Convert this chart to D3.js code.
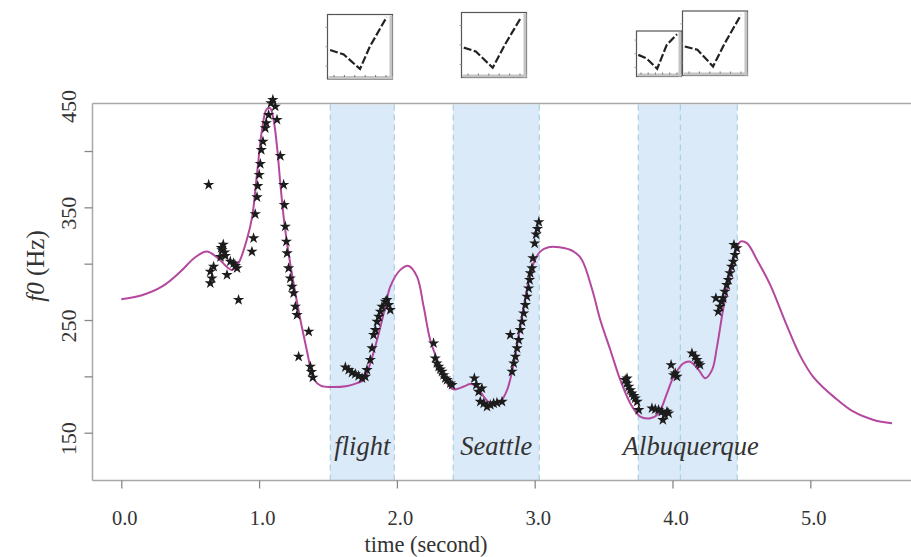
<!DOCTYPE html>
<html>
<head>
<meta charset="utf-8">
<script src="https://cdn.jsdelivr.net/npm/d3@7"></script>
<style>
  html, body { margin: 0; padding: 0; background: #fff; }
  svg { display: block; }
  text { font-family: "Liberation Serif", "Times New Roman", serif; fill: #333; }
</style>
</head>
<body>
<svg id="chart" width="911" height="557"></svg>
<script>
// ---- data ---------------------------------------------------------------
// fitted f0 contour (time in s, f0 in Hz)
const curveTime = [0.00, 0.15, 0.30, 0.43, 0.53, 0.62, 0.70, 0.80, 0.85, 0.91, 0.95, 0.985, 1.021, 1.054, 1.08, 1.105, 1.13, 1.154, 1.178, 1.203, 1.25, 1.30, 1.35, 1.372, 1.40, 1.45, 1.52, 1.64, 1.71, 1.76, 1.807, 1.856, 1.916, 1.952, 2.025, 2.085, 2.146, 2.194, 2.242, 2.303, 2.364, 2.412, 2.485, 2.533, 2.58, 2.63, 2.68, 2.75, 2.80, 2.848, 2.895, 2.944, 2.992, 3.04, 3.10, 3.18, 3.28, 3.34, 3.418, 3.476, 3.549, 3.621, 3.694, 3.766, 3.839, 3.899, 3.96, 4.008, 4.08, 4.129, 4.19, 4.238, 4.287, 4.323, 4.371, 4.432, 4.492, 4.54, 4.613, 4.71, 4.82, 4.93, 5.024, 5.10, 5.169, 5.314, 5.46, 5.593];
const curveF0   = [268.5, 272, 280, 293, 305, 310.7, 305, 294.5, 300.4, 321, 341.8, 380, 418.7, 437, 438, 427.7, 403.8, 371.3, 341.7, 318, 282.6, 250, 221, 208, 197, 191.5, 190.5, 191.5, 194, 197, 211.6, 232.3, 262, 279.7, 294.5, 298, 288.5, 262, 232.3, 211.6, 194, 188.5, 191, 193.2, 191, 182, 176, 177.5, 188, 211.6, 244, 276.7, 300.4, 310.7, 314.6, 314.5, 311, 304, 276.7, 250, 223.4, 196.8, 176, 164.2, 162.8, 167.2, 185, 199.7, 211.6, 213, 205.7, 198.3, 205.7, 226.4, 262, 297.4, 319.6, 318.2, 303.4, 281, 248, 217.5, 199, 189.5, 182, 168.6, 161.3, 158.3];

// measured f0 samples (time in s, f0 in Hz)
const sampleTime = [0.634, 0.72, 0.73, 0.74, 0.75, 0.755, 0.725, 0.67, 0.646, 0.658, 0.646, 0.767, 0.791, 0.815, 0.84, 0.828, 0.851,
  0.948, 0.96, 0.972, 0.985, 0.99, 1.001, 1.009, 1.016, 1.028, 1.045, 1.052, 1.069, 1.086, 1.1, 1.117, 1.13, 1.154, 1.178, 1.183, 1.19,
  1.198, 1.203, 1.214, 1.226, 1.239, 1.25, 1.263, 1.275, 1.287, 1.36, 1.372, 1.38, 1.39,
  1.626, 1.65, 1.674, 1.698, 1.722, 1.747, 1.771, 1.783, 1.807, 1.82, 1.831, 1.844, 1.856, 1.868, 1.88, 1.892, 1.916, 1.928, 1.94, 1.952,
  2.266, 2.278, 2.29, 2.303, 2.315, 2.327, 2.339, 2.351, 2.364, 2.388, 2.4,
  2.562, 2.576, 2.593, 2.617, 2.605, 2.63, 2.654, 2.678, 2.702, 2.726, 2.763, 2.823, 2.835, 2.848, 2.86, 2.872, 2.884, 2.895, 2.908, 2.92,
  2.932, 2.944, 2.956, 2.963, 2.968, 2.98, 2.987, 3.0, 3.01, 3.02, 3.03,
  3.657, 3.67, 3.682, 3.694, 3.706, 3.718, 3.73, 3.743, 3.755, 3.67,
  3.851, 3.875, 3.899, 3.923, 3.96, 3.93, 3.945, 3.972,
  3.99, 4.008, 4.032, 4.02, 4.141, 4.165, 4.177, 4.19, 4.2,
  4.315, 4.332, 4.344, 4.356, 4.368, 4.38, 4.393, 4.405, 4.417, 4.429, 4.441, 4.453, 4.446, 4.467];
const sampleF0 = [370, 306, 312, 317, 310, 307, 314, 297.4, 293, 287, 282.7, 290, 301.9, 300.4, 296, 298, 267.9,
  310.7, 322.6, 344, 359, 369, 378.9, 388.6, 401, 408.4, 420.3, 424.8, 432, 442.5, 445.5, 439.5, 427.7, 395.7, 370, 352.2, 333,
  319.6, 309.3, 296, 287, 279.7, 273.8, 261.9, 254.5, 217.5, 239.7, 208.6, 204, 199,
  208.1, 205.7, 203.3, 202.1, 200.4, 198.3, 199.7, 205.7, 214.6, 225, 236.8, 241.2, 248.6, 253, 257.5, 261.9, 266.3, 267.9, 263.4, 259,
  229.4, 216, 211.6, 208.6, 206.3, 204.2, 201.2, 198.3, 196.8, 193.9, 192.4,
  198.3, 192.4, 186.4, 189.4, 177.5, 176, 173.1, 174.6, 176, 176.6, 177.5, 236.8, 204.2, 211.6, 217.5, 225, 232.3, 241.2, 248.6, 256,
  263.4, 270.8, 278.2, 285.6, 291.6, 296, 304.9, 318, 326, 331, 337,
  196.8, 193.9, 190.9, 187.9, 185, 182.6, 180.5, 177.5, 170.2, 198.3,
  171.7, 170.8, 170.2, 168.7, 168.7, 161.3, 165.7, 167.2,
  210.1, 201.2, 199.7, 202.7, 220.5, 217.5, 214.6, 211.6, 210.1,
  269.4, 257.5, 261.9, 266.3, 269.4, 275.2, 281.2, 285.6, 291.6, 297.4, 301.9, 307.8, 316.7, 313.8];

// highlighted words: start / end time in s
const wordLabels = ["flight", "Seattle", "Albuquerque"];
const wordStart  = [1.517, 2.409, 3.752];
const wordEnd    = [1.981, 3.033, 4.470];
const extraBoundary = [4.057];   // syllable split inside "Albuquerque"

// axis ticks
const xTicks = [0, 1, 2, 3, 4, 5];
const yTicks = [150, 200, 250, 300, 350, 400];
const yLabelled = [150, 250, 350, 450];

// small contour thumbnails: normalized time / normalized f0 points
const thumbX = [
  [0.04, 0.25, 0.50, 0.65, 0.91],
  [0.035, 0.22, 0.48, 0.67, 0.92],
  [0.04, 0.22, 0.46, 0.67, 0.90],
  [0.035, 0.23, 0.47, 0.65, 0.90]
];
const thumbY = [
  [0.45, 0.38, 0.155, 0.50, 0.96],
  [0.46, 0.40, 0.15, 0.51, 0.93],
  [0.475, 0.40, 0.17, 0.69, 0.93],
  [0.45, 0.40, 0.14, 0.50, 0.94]
];

// ---- layout ---------------------------------------------------------------
const plot = { left: 92.5, right: 911, top: 103.5, bottom: 480.5 };
const svg = d3.select("#chart");

const x = d3.scaleLinear().domain([0, 5]).range([121.3, 810.3]);
const y = d3.scaleLinear().domain([150, 400]).range([432.7, 151]);

// shaded word regions
const regions = svg.append("g");
regions.selectAll("rect").data(wordLabels).join("rect")
  .attr("x", (d, i) => x(wordStart[i]))
  .attr("width", (d, i) => x(wordEnd[i]) - x(wordStart[i]))
  .attr("y", plot.top + 1)
  .attr("height", plot.bottom - plot.top - 1)
  .attr("fill", "#dbeaf8");

const boundaries = wordStart.concat(wordEnd, extraBoundary);
regions.selectAll("line").data(boundaries).join("line")
  .attr("x1", d => x(d)).attr("x2", d => x(d))
  .attr("y1", plot.top + 1).attr("y2", plot.bottom)
  .attr("stroke", "#a9cfe0").attr("stroke-width", 1.2)
  .attr("stroke-dasharray", "6,4");

// frame lines
const frame = svg.append("g").attr("stroke", "#a8a8a8").attr("stroke-width", 1.5).attr("fill", "none");
frame.append("line").attr("x1", plot.left).attr("x2", plot.right).attr("y1", plot.top).attr("y2", plot.top);
frame.append("line").attr("x1", plot.left).attr("x2", plot.right).attr("y1", plot.bottom).attr("y2", plot.bottom);
frame.append("line").attr("x1", plot.left).attr("x2", plot.left).attr("y1", plot.top).attr("y2", plot.bottom);

// x axis
const xAxis = d3.axisBottom(x).tickValues(xTicks).tickSize(8).tickPadding(22)
  .tickFormat(d3.format(".1f"));
const gx = svg.append("g").attr("transform", `translate(0,${plot.bottom})`).call(xAxis);
gx.select(".domain").remove();
gx.selectAll(".tick line").attr("stroke", "#888").attr("stroke-width", 1.3);
gx.selectAll(".tick text").attr("font-size", 20.5).attr("fill", "#333")
  .attr("font-family", "Liberation Serif, serif")
  .attr("dx", 3);

// y axis
const yAxis = d3.axisLeft(y).tickValues(yTicks).tickSize(8).tickFormat("");
const gy = svg.append("g").attr("transform", `translate(${plot.left},0)`).call(yAxis);
gy.select(".domain").remove();
gy.selectAll(".tick line").attr("stroke", "#888").attr("stroke-width", 1.3);
svg.append("g").selectAll("text").data(yLabelled).join("text")
  .attr("transform", d => `translate(76,${Math.max(y(d), plot.top - 3) + 6}) rotate(-90)`)
  .attr("text-anchor", "middle")
  .attr("font-size", 22)
  .text(d => d);

// axis titles
svg.append("text")
  .attr("x", 426).attr("y", 552)
  .attr("text-anchor", "middle").attr("font-size", 22.5)
  .text("time (second)");
const yt = svg.append("text")
  .attr("transform", "translate(44,266) rotate(-90)")
  .attr("text-anchor", "middle").attr("font-size", 25);
yt.append("tspan").attr("font-style", "italic").text("f0");
yt.append("tspan").text(" (Hz)");

// fitted contour
const curveData = curveTime.map((t, i) => [t, curveF0[i]]);
svg.append("path")
  .datum(curveData)
  .attr("fill", "none")
  .attr("stroke", "#b4489e")
  .attr("stroke-width", 2)
  .attr("d", d3.line().x(d => x(d[0])).y(d => y(d[1])).curve(d3.curveCatmullRom.alpha(0.5)));

// measured samples
const star = d3.symbol().type(d3.symbolStar).size(40);
svg.append("g").selectAll("path").data(sampleTime).join("path")
  .attr("transform", (t, i) => `translate(${x(t)},${y(sampleF0[i])})`)
  .attr("d", star)
  .attr("fill", "#1c1c1c");

// word labels
svg.append("g").selectAll("text").data(wordLabels).join("text")
  .attr("x", (d, i) => (x(wordStart[i]) + x(wordEnd[i])) / 2 + (i === 2 ? 3 : 0))
  .attr("y", 455)
  .attr("text-anchor", "middle")
  .attr("font-size", 26.5)
  .attr("font-style", "italic")
  .attr("fill", "#222")
  .text(d => d);

// contour thumbnails above the plot
const thumbBoxes = [
  { x: 327.5, y: 14.5, w: 65, h: 64.5 },
  { x: 461.5, y: 12.5, w: 65, h: 65 },
  { x: 636.5, y: 31, w: 45, h: 45.5 },
  { x: 682.5, y: 11, w: 65, h: 64.5 }
];
thumbBoxes.forEach((b, k) => {
  const g = svg.append("g");
  const tx = d3.scaleLinear().domain([0, 1]).range([b.x, b.x + b.w]);
  const ty = d3.scaleLinear().domain([0, 1]).range([b.y + b.h, b.y]);
  g.append("rect").attr("x", b.x).attr("y", b.y).attr("width", b.w).attr("height", b.h)
    .attr("fill", "#fff").attr("stroke", "#555").attr("stroke-width", 1.2);
  // shaded right / bottom edges
  g.append("rect").attr("x", b.x + b.w - 3).attr("y", b.y + 1).attr("width", 3).attr("height", b.h - 1)
    .attr("fill", "#c4c4c4");
  g.append("rect").attr("x", b.x + 1).attr("y", b.y + b.h - 3).attr("width", b.w - 1).attr("height", 3)
    .attr("fill", "#c4c4c4");
  // tiny ticks
  const ticks = d3.range(0.1, 0.95, 0.16);
  g.selectAll(".bt").data(ticks).join("line")
    .attr("x1", d => tx(d)).attr("x2", d => tx(d))
    .attr("y1", b.y + b.h - 4).attr("y2", b.y + b.h - 2)
    .attr("stroke", "#777").attr("stroke-width", 1);
  g.selectAll(".lt").data([0.2, 0.5, 0.8]).join("line")
    .attr("x1", b.x).attr("x2", b.x - 2)
    .attr("y1", d => ty(d)).attr("y2", d => ty(d))
    .attr("stroke", "#999").attr("stroke-width", 1);
  const pts = thumbX[k].map((v, i) => [v, thumbY[k][i]]);
  g.append("path").datum(pts)
    .attr("fill", "none").attr("stroke", "#222").attr("stroke-width", 2.2)
    .attr("stroke-dasharray", "8,2.5")
    .attr("d", d3.line().x(d => tx(d[0])).y(d => ty(d[1])));
});
</script>
</body>
</html>
